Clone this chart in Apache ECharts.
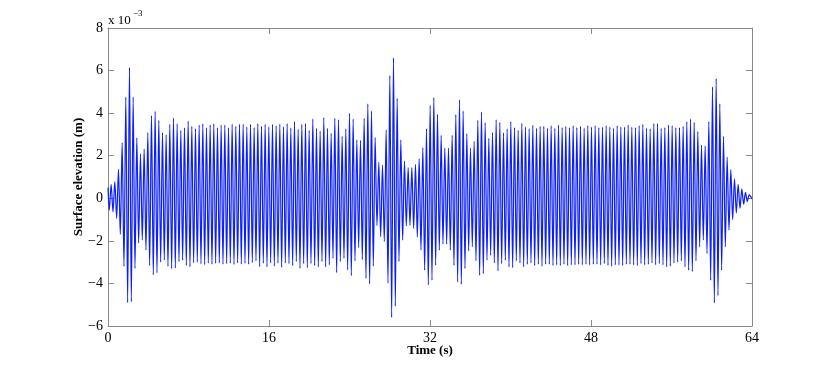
<!DOCTYPE html>
<html>
<head>
<meta charset="utf-8">
<script src="https://cdn.jsdelivr.net/npm/echarts@6/dist/echarts.min.js"></script>
<style>
html,body{margin:0;padding:0;background:#fff;}
#chart{width:830px;height:367px;}
</style>
</head>
<body>
<div id="chart"></div>
<script>
// Surface elevation (units of 1e-3 m): alternating trough/peak extrema
const startPoint = [0, 0.50];
const endPoint = [64, -0.02];
const t0 = 0.13;          // time of first extremum (s)
const halfPeriod = 0.1822; // spacing between successive extrema (s)

const startBurst = [
  -0.56, 0.66, -0.64, 0.78, -0.95, 1.36, -1.70, 2.62, -3.20, 4.75,
  -4.90, 6.15, -4.86, 4.75, -3.30, 2.84, -2.10, 2.09, -1.97, 2.31,
  -2.44, 3.09, -3.16, 3.89, -3.60, 4.09, -3.50, 3.66, -3.00, 3.09,
  -2.90, 2.98, -3.20, 3.47, -3.30, 3.77, -3.28, 3.50, -2.98, 3.19,
  -2.91, 3.31, -3.16, 3.63, -3.22, 3.38
];
const steadyA = [
  -3.03, 3.27, -3.00, 3.44, -3.08, 3.50, -3.12, 3.31, -3.05, 3.45,
  -3.10, 3.50, -3.06, 3.31, -3.04, 3.44, -3.10, 3.44, -3.07, 3.31,
  -3.05, 3.48, -3.11, 3.38, -3.04, 3.48, -3.09, 3.48, -3.06, 3.34,
  -3.10, 3.47, -3.02, 3.32, -2.94, 3.51, -3.21, 3.38, -3.05, 3.47,
  -3.22, 3.35, -3.04, 3.47, -3.19, 3.41, -3.05, 3.49, -3.24, 3.36,
  -3.04, 3.51, -3.07, 3.30, -3.16, 3.60, -2.97, 3.24, -3.29, 3.47,
  -3.07, 3.51, -3.26, 3.19, -3.07, 3.72, -3.16, 3.29, -3.22, 3.16,
  -2.97, 3.79, -3.22, 3.29, -3.13, 3.05
];
const midBurst = [
  -2.82, 3.76, -3.49, 3.68, -2.97, 2.91, -2.82, 3.26, -3.36, 3.99,
  -3.63, 3.72, -2.94, 2.75, -2.32, 2.72, -2.88, 3.76, -3.76, 4.44,
  -4.02, 4.10, -3.19, 2.85, -1.28, 1.69, -1.80, 1.56, -2.03, 3.21,
  -3.99, 5.76, -5.60, 6.60, -5.07, 4.69, -2.97, 2.75, -1.97, 1.75,
  -1.30, 1.44, -1.27, 1.44, -1.42, 1.60, -1.82, 1.86, -2.44, 2.38,
  -3.38, 3.27, -4.07, 4.37, -3.85, 4.73, -3.15, 3.94, -2.44, 2.96,
  -2.16, 2.36, -2.16, 2.36, -2.44, 2.96, -3.15, 3.93, -3.93, 4.63,
  -4.04, 4.10, -3.30, 3.04, -2.47, 2.36, -2.28, 2.68, -2.94, 3.66,
  -3.62, 4.05, -3.54, 3.55, -2.91, 2.82, -2.68, 3.10
];
const steadyB = [
  -3.04, 3.69, -3.41, 3.57, -3.07, 3.07, -2.91, 3.26, -3.22, 3.60,
  -3.26, 3.32, -2.94, 3.19, -3.04, 3.52, -3.22, 3.35, -3.10, 3.26,
  -3.04, 3.43, -3.16, 3.29, -3.10, 3.38, -3.19, 3.38, -3.10, 3.29,
  -3.10, 3.41, -3.16, 3.29, -3.13, 3.44, -3.16, 3.32, -3.10, 3.38,
  -3.16, 3.32, -3.13, 3.41, -3.13, 3.32, -3.10, 3.38, -3.13, 3.29,
  -3.10, 3.41, -3.13, 3.35, -3.10, 3.41, -3.10, 3.32, -3.13, 3.35,
  -3.07, 3.41, -3.16, 3.35, -3.19, 3.29, -3.13, 3.41, -3.13, 3.35,
  -3.16, 3.35, -3.10, 3.44, -3.10, 3.35, -3.13, 3.32, -3.16, 3.41,
  -3.07, 3.47, -3.13, 3.29, -3.10, 3.26, -3.04, 3.51, -3.13, 3.51,
  -3.07, 3.29, -3.13, 3.32, -3.22, 3.44, -3.19, 3.41, -3.04, 3.32,
  -3.00, 3.32, -2.94, 3.38
];
const endBurst = [
  -3.22, 3.60, -3.38, 3.72, -3.44, 3.57, -2.94, 3.13, -2.28, 2.50,
  -1.97, 2.47, -2.60, 3.60, -3.85, 5.23, -4.91, 5.62, -4.57, 4.44,
  -3.38, 2.91, -2.28, 1.94, -1.50, 1.35, -1.00, 0.91, -0.69, 0.66,
  -0.47, 0.44, -0.28, 0.28, -0.16, 0.16
];
const xTicks = [0, 16, 32, 48, 64];
const yTicks = [-6, -4, -2, 0, 2, 4, 6, 8];

const extrema = [].concat(startBurst, steadyA, midBurst, steadyB, endBurst);
const seriesData = [startPoint];
extrema.forEach((v, i) => seriesData.push([t0 + i * halfPeriod, v]));
seriesData.push(endPoint);

const FONT = "'Liberation Serif','Times New Roman',serif";
const axisGray = '#8a8a8a';

function xAxisCfg(pos, showLabel) {
  return {
    type: 'value', position: pos, min: xTicks[0], max: xTicks[xTicks.length - 1],
    interval: xTicks[1] - xTicks[0],
    axisLine: { show: true, onZero: false, lineStyle: { color: axisGray, width: 1 } },
    axisTick: { show: true, inside: true, length: 6, lineStyle: { color: axisGray } },
    axisLabel: { show: showLabel, color: '#000', fontFamily: FONT, fontSize: 14, margin: 5 },
    splitLine: { show: false },
    name: showLabel ? 'Time (s)' : '',
    nameLocation: 'middle', nameGap: 18, nameMoveOverlap: false,
    nameTextStyle: { color: '#000', fontFamily: FONT, fontSize: 13, fontWeight: 'bold' }
  };
}
function yAxisCfg(pos, showLabel) {
  return {
    type: 'value', position: pos, min: yTicks[0], max: yTicks[yTicks.length - 1],
    interval: yTicks[1] - yTicks[0],
    axisLine: { show: true, onZero: false, lineStyle: { color: axisGray, width: 1 } },
    axisTick: { show: true, inside: true, length: 6, lineStyle: { color: axisGray } },
    axisLabel: { show: showLabel, color: '#000', fontFamily: FONT, fontSize: 14, margin: 5,
      formatter: v => String(v).replace('-', '\u2212') },
    splitLine: { show: false },
    name: showLabel ? 'Surface elevation (m)' : '',
    nameLocation: 'middle', nameGap: 23, nameRotate: 90, nameMoveOverlap: false,
    nameTextStyle: { color: '#000', fontFamily: FONT, fontSize: 13, fontWeight: 'bold' }
  };
}

const chart = echarts.init(document.getElementById('chart'), null, { renderer: 'canvas' });
chart.setOption({
  animation: false,
  backgroundColor: '#fff',
  grid: { left: 108, right: 78, top: 28, bottom: 41, containLabel: false },
  xAxis: [xAxisCfg('bottom', true), xAxisCfg('top', false)],
  yAxis: [yAxisCfg('left', true), yAxisCfg('right', false)],
  graphic: [
    { type: 'text', left: 108, top: 14, style: { text: 'x 10', font: '13px ' + FONT, fill: '#000' } },
    { type: 'text', left: 133, top: 9, style: { text: '\u22123', font: '9px ' + FONT, fill: '#000' } }
  ],
  series: [{
    type: 'line', data: seriesData, showSymbol: false, smooth: 0.3,
    xAxisIndex: 0, yAxisIndex: 0,
    lineStyle: { color: '#0a1eff', width: 1.2 }, itemStyle: { color: '#0a1eff' }
  }]
});
</script>
</body>
</html>
